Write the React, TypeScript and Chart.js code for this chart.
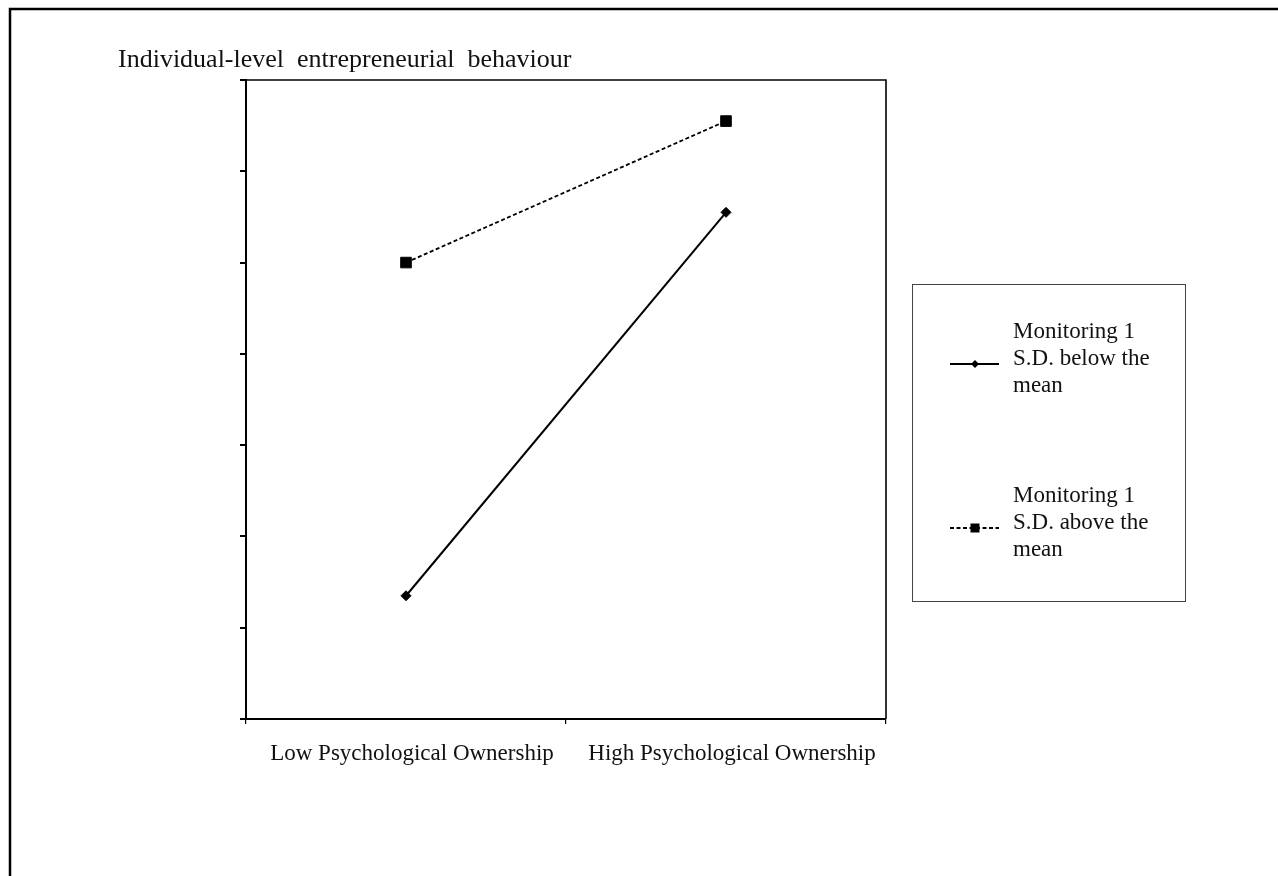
import React, { useEffect, useRef } from "react";
import { Chart, registerables } from "chart.js";

Chart.register(...registerables);

const categories = ["Low Psychological Ownership", "High Psychological Ownership"];
const monitoringBelow = [1.35, 5.55];
const monitoringAbove = [5.0, 6.55];
const yMin = 0;
const yMax = 7;
const yStep = 1;
const titleText = "Individual-level  entrepreneurial  behaviour";
const legendBelowLines = ["Monitoring 1", "S.D. below the", "mean"];
const legendAboveLines = ["Monitoring 1", "S.D. above the", "mean"];

const FONT = '"Liberation Serif", "Times New Roman", serif';
const W = 1278;
const H = 876;
const TEXT = "#111";

const decorPlugin = {
  id: "decor",
  afterDraw(chart: any) {
    const { ctx, chartArea: a } = chart;
    ctx.save();
    // outer frame
    ctx.strokeStyle = "#000";
    ctx.lineWidth = 2.5;
    ctx.strokeRect(10, 9, W + 40, H + 40);
    // plot box top & right
    ctx.lineWidth = 1.6;
    ctx.beginPath();
    ctx.moveTo(a.left, a.top);
    ctx.lineTo(a.right, a.top);
    ctx.lineTo(a.right, a.bottom);
    ctx.stroke();
    // title
    ctx.fillStyle = TEXT;
    ctx.font = `26px ${FONT}`;
    ctx.textAlign = "left";
    ctx.textBaseline = "alphabetic";
    ctx.fillText(titleText, 118, 67);

    // legend box
    ctx.font = `23px ${FONT}`;
    ctx.strokeStyle = "#444";
    ctx.lineWidth = 1;
    ctx.strokeRect(912.5, 284.5, 273, 317);

    const entryBaselines = [338, 502];
    const lineH = 27;
    chart.data.datasets.forEach((ds: any, i: number) => {
      const lines: string[] = ds.legendLines;
      const b0 = entryBaselines[i];
      lines.forEach((t, k) => {
        ctx.fillStyle = TEXT;
        ctx.fillText(t, 1013, b0 + k * lineH);
      });
      const sy = b0 + lineH - 1;
      ctx.strokeStyle = "#000";
      ctx.lineWidth = 1.8;
      ctx.setLineDash(ds.borderDash || []);
      ctx.beginPath();
      ctx.moveTo(950, sy);
      ctx.lineTo(999, sy);
      ctx.stroke();
      ctx.setLineDash([]);
      ctx.fillStyle = "#000";
      const cx = 975;
      ctx.beginPath();
      if (ds.pointStyle === "rectRot") {
        const r = 4;
        ctx.moveTo(cx, sy - r);
        ctx.lineTo(cx + r, sy);
        ctx.lineTo(cx, sy + r);
        ctx.lineTo(cx - r, sy);
        ctx.closePath();
      } else {
        const s = 4.5;
        ctx.rect(cx - s, sy - s, 2 * s, 2 * s);
      }
      ctx.fill();
    });
    ctx.restore();
  },
};

export default function App() {
  const ref = useRef<HTMLCanvasElement | null>(null);

  useEffect(() => {
    if (!ref.current) return;
    const chart = new Chart(ref.current, {
      type: "line",
      data: {
        labels: categories,
        datasets: [
          {
            label: legendBelowLines.join(" "),
            legendLines: legendBelowLines,
            data: monitoringBelow,
            borderColor: "#000",
            backgroundColor: "#000",
            borderWidth: 2,
            pointStyle: "rectRot",
            pointRadius: 5,
            pointBorderWidth: 1,
            pointBackgroundColor: "#000",
            pointBorderColor: "#000",
            tension: 0,
          } as any,
          {
            label: legendAboveLines.join(" "),
            legendLines: legendAboveLines,
            data: monitoringAbove,
            borderColor: "#000",
            backgroundColor: "#000",
            borderWidth: 1.8,
            borderDash: [4, 2.5],
            pointStyle: "rect",
            pointRadius: 7.5,
            pointBorderWidth: 1,
            pointBackgroundColor: "#000",
            pointBorderColor: "#000",
            tension: 0,
          } as any,
        ],
      },
      options: {
        responsive: false,
        animation: false,
        events: [],
        devicePixelRatio: 1,
        layout: { padding: { left: 206, right: W - 886, top: 80, bottom: 57 } },
        plugins: {
          legend: { display: false },
          tooltip: { enabled: false },
          title: { display: false },
        },
        scales: {
          x: {
            type: "category",
            offset: true,
            afterFit: (s: any) => {
              s.height = 100;
            },
            grid: {
              offset: true,
              drawOnChartArea: false,
              drawTicks: true,
              tickLength: 5,
              color: "#000",
              lineWidth: 1.2,
            },
            border: { display: true, color: "#000", width: 2 },
            ticks: {
              color: TEXT,
              font: { family: FONT, size: 23 },
              padding: 16,
              labelOffset: 6,
              maxRotation: 0,
              autoSkip: false,
            },
          },
          y: {
            type: "linear",
            min: yMin,
            max: yMax,
            afterFit: (s: any) => {
              s.width = 40;
            },
            grid: {
              drawOnChartArea: false,
              drawTicks: true,
              tickLength: 6,
              color: "#000",
              lineWidth: 2,
            },
            border: { display: true, color: "#000", width: 2 },
            ticks: {
              stepSize: yStep,
              display: false,
            },
          },
        },
      },
      plugins: [decorPlugin],
    } as any);
    return () => chart.destroy();
  }, []);

  return (
    <div style={{ position: "fixed", left: 0, top: 0, width: W, height: H, background: "#fff" }}>
      <canvas ref={ref} width={W} height={H} style={{ display: "block", width: W, height: H }} />
    </div>
  );
}
